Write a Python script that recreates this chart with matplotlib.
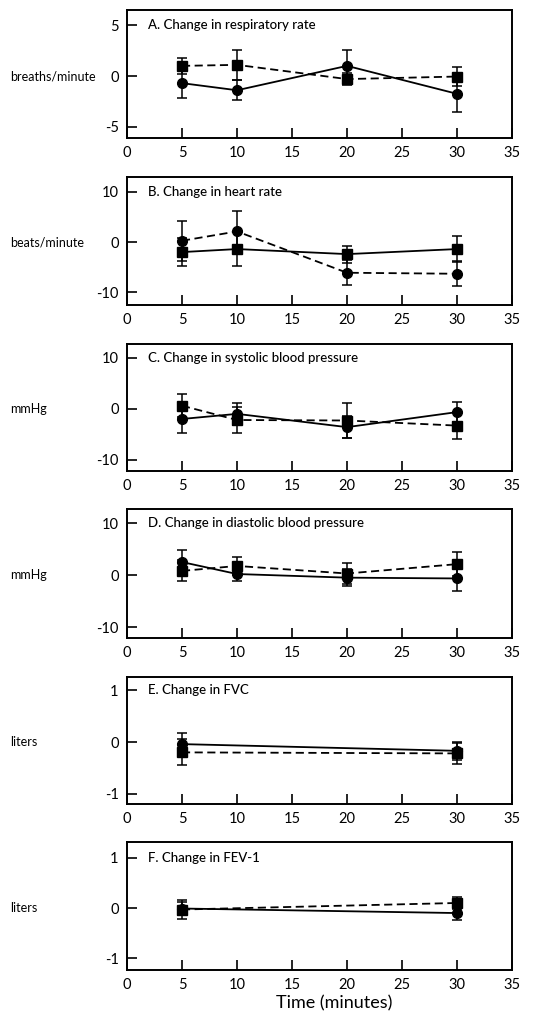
import matplotlib
matplotlib.use("Agg")
import matplotlib.pyplot as plt
import matplotlib.transforms as mtransforms

plt.rcParams['font.family'] = ['Lato', 'DejaVu Sans']
plt.rcParams['axes.unicode_minus'] = False

times_4 = [5, 10, 20, 30]
times_2 = [5, 30]

# Panel A: respiratory rate (breaths/minute)
a_sq = [1.0, 1.1, -0.3, -0.05]
a_sq_err = [0.8, 1.5, 0.6, 0.95]
a_ci = [-0.7, -1.4, 1.0, -1.75]
a_ci_err = [1.5, 1.0, 1.6, 1.8]

# Panel B: heart rate (beats/minute)
b_ci = [0.25, 2.1, -6.1, -6.3]
b_ci_err = [4.0, 4.0, 2.5, 2.5]
b_sq = [-2.0, -1.4, -2.4, -1.4]
b_sq_err = [2.7, 3.4, 1.7, 2.5]

# Panel C: systolic blood pressure (mmHg)
c_sq = [0.6, -2.2, -2.3, -3.3]
c_sq_err = [2.2, 2.6, 3.4, 2.7]
c_ci = [-2.0, -1.0, -3.6, -0.65]
c_ci_err = [2.7, 2.1, 2.2, 1.9]

# Panel D: diastolic blood pressure (mmHg)
d_sq = [0.8, 1.75, 0.3, 2.1]
d_sq_err = [2.0, 1.7, 2.0, 2.3]
d_ci = [2.5, 0.2, -0.5, -0.65]
d_ci_err = [2.4, 1.4, 1.6, 2.5]

# Panel E: FVC (liters)
e_sq = [-0.2, -0.22]
e_sq_err = [0.25, 0.2]
e_ci = [-0.04, -0.17]
e_ci_err = [0.22, 0.18]

# Panel F: FEV-1 (liters)
f_sq = [-0.03, 0.1]
f_sq_err = [0.18, 0.12]
f_ci = [-0.01, -0.1]
f_ci_err = [0.12, 0.14]

titles = ["A. Change in respiratory rate", "B. Change in heart rate",
          "C. Change in systolic blood pressure", "D. Change in diastolic blood pressure",
          "E. Change in FVC", "F. Change in FEV-1"]
ylabels = ["breaths/minute", "beats/minute", "mmHg", "mmHg", "liters", "liters"]
yticks = [[-5, 0, 5], [-10, 0, 10], [-10, 0, 10], [-10, 0, 10], [-1, 0, 1], [-1, 0, 1]]
ylims = [(-6.1, 6.5), (-12.5, 12.9), (-12.2, 12.7), (-12.1, 12.7), (-1.2, 1.26), (-1.23, 1.31)]

# (x, values, errs, marker, linestyle)
series = [
    [(times_4, a_sq, a_sq_err, 's', '--'), (times_4, a_ci, a_ci_err, 'o', '-')],
    [(times_4, b_ci, b_ci_err, 'o', '--'), (times_4, b_sq, b_sq_err, 's', '-')],
    [(times_4, c_sq, c_sq_err, 's', '--'), (times_4, c_ci, c_ci_err, 'o', '-')],
    [(times_4, d_sq, d_sq_err, 's', '--'), (times_4, d_ci, d_ci_err, 'o', '-')],
    [(times_2, e_sq, e_sq_err, 's', '--'), (times_2, e_ci, e_ci_err, 'o', '-')],
    [(times_2, f_sq, f_sq_err, 's', '--'), (times_2, f_ci, f_ci_err, 'o', '-')],
]

W, H = 553, 1024
fig = plt.figure(figsize=(W / 100, H / 100), dpi=100)
boxes = [(10, 138), (177, 305), (344, 471), (509, 638), (677, 804), (842, 970)]
left_px, right_px = 127, 512

for i, (top, bot) in enumerate(boxes):
    ax = fig.add_axes([left_px / W, 1 - bot / H, (right_px - left_px) / W, (bot - top) / H])
    for x, y, e, m, ls in series[i]:
        cont = ax.errorbar(x, y, yerr=e, marker=m, linestyle=ls, color='black',
                           markersize=7, linewidth=1.3, elinewidth=1.1, capsize=3.5,
                           capthick=1.1)
        if ls == '--':
            cont[0].set_dashes((4.5, 2.5))
    ax.set_xlim(0, 35)
    ax.set_ylim(*ylims[i])
    ax.set_xticks(range(0, 40, 5))
    ax.set_yticks(yticks[i])
    ax.tick_params(axis='both', direction='in', labelsize=10.5, width=1.2, length=7,
                   top=False, right=False, pad=6)
    for s in ax.spines.values():
        s.set_linewidth(1.4)
    ax.text(0.055, yticks[i][-1], titles[i],
            transform=mtransforms.blended_transform_factory(ax.transAxes, ax.transData),
            ha='left', va='center', fontsize=9.5, fontweight='medium')
    tr = mtransforms.blended_transform_factory(fig.transFigure, ax.transData)
    fig.text(10 / W, 0, ylabels[i], transform=tr, ha='left', va='center', fontsize=9)

fig.text(334 / W, 1 - 1003 / H, "Time (minutes)", ha='center', va='center', fontsize=13)

fig.savefig("out.png", dpi=100)
